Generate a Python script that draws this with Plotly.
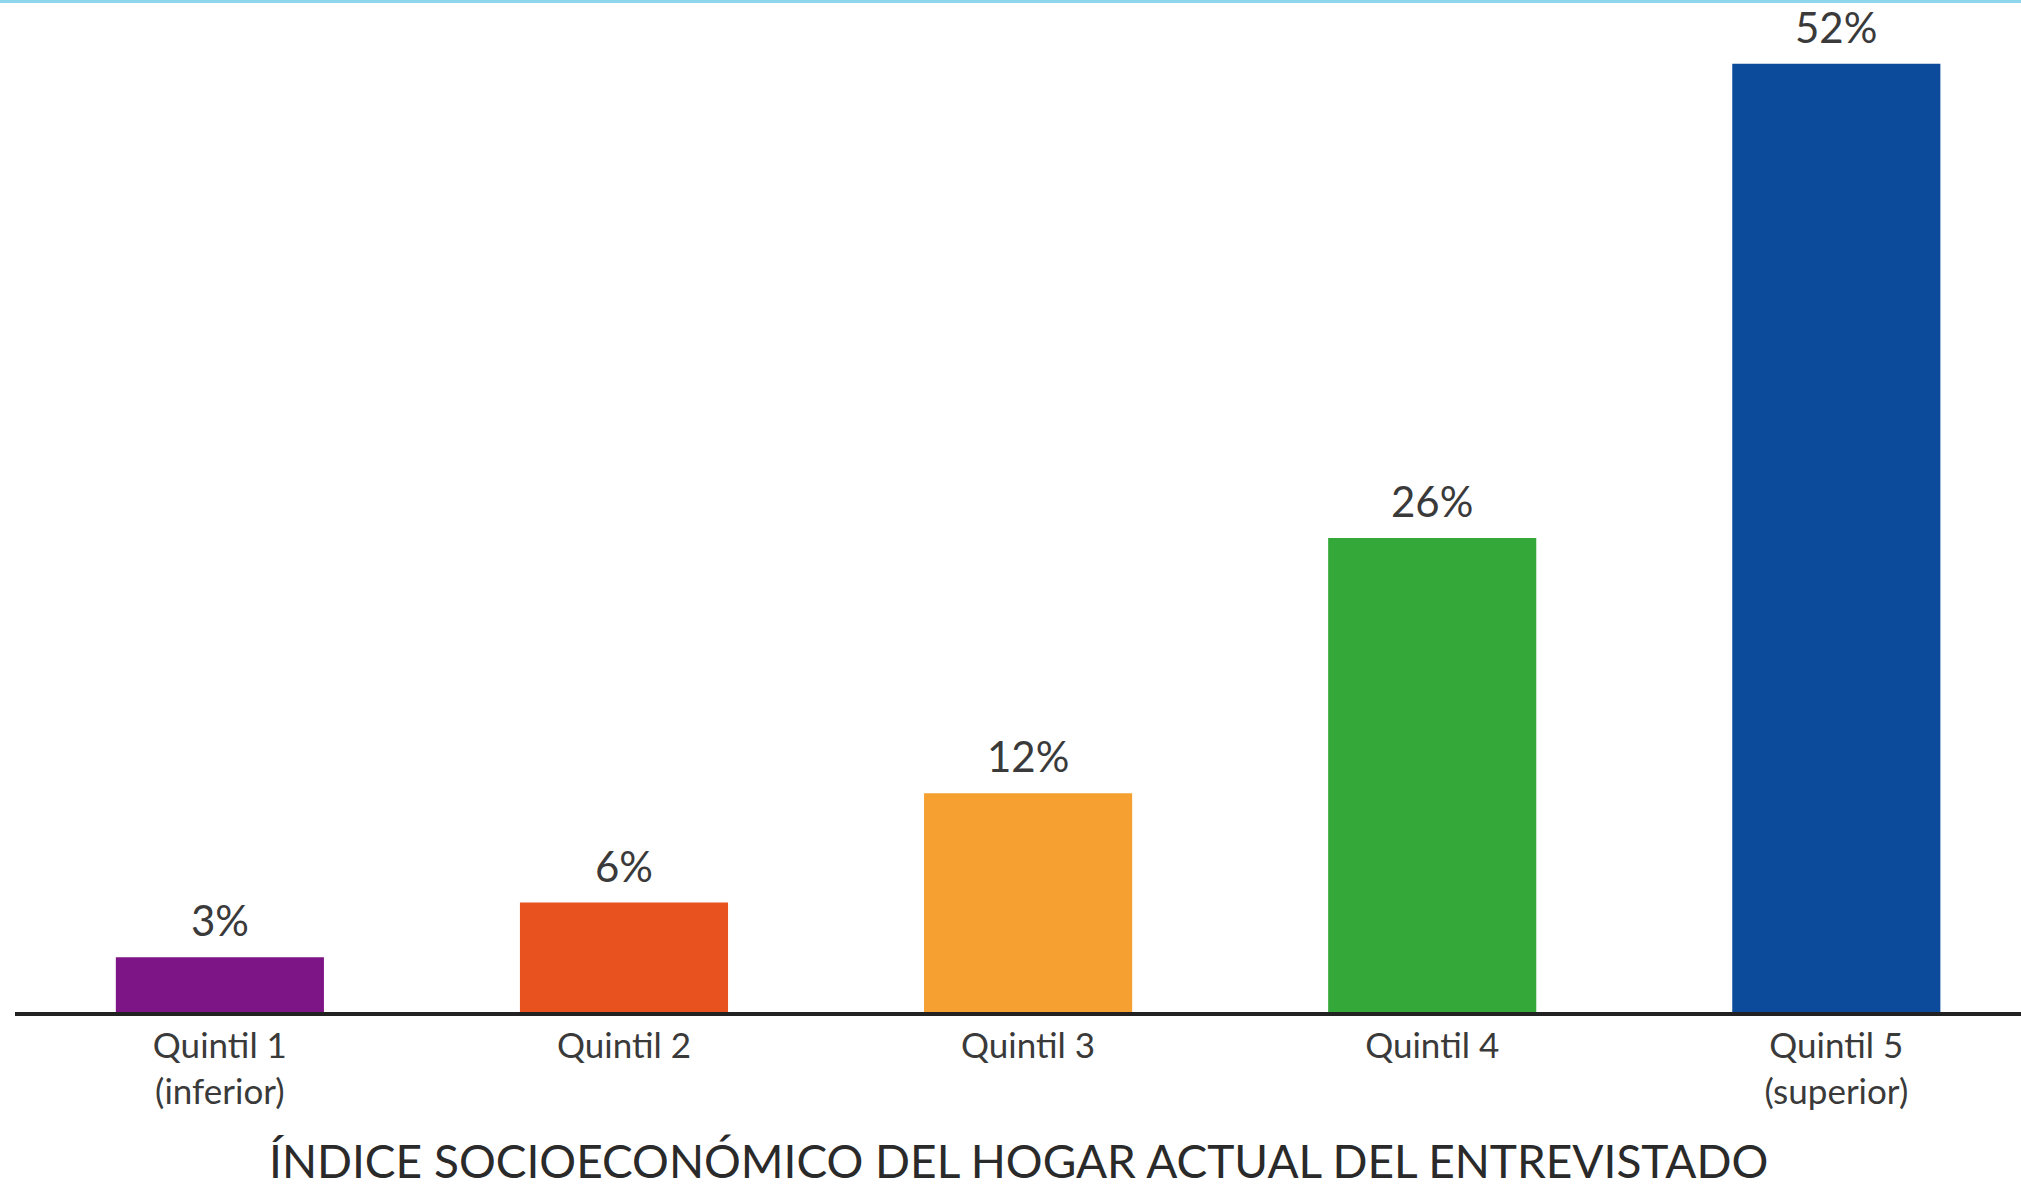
import plotly.graph_objects as go

categories = ["Quintil 1", "Quintil 2", "Quintil 3", "Quintil 4", "Quintil 5"]
tick_labels = ["Quintil 1<br>(inferior)", "Quintil 2", "Quintil 3", "Quintil 4", "Quintil 5<br>(superior)"]
values = [3, 6, 12, 26, 52]
value_labels = ["3%", "6%", "12%", "26%", "52%"]
colors = ["#7E1587", "#E8521F", "#F5A030", "#34A93A", "#0C4A9B"]
axis_title = "ÍNDICE SOCIOECONÓMICO DEL HOGAR ACTUAL DEL ENTREVISTADO"

W, H = 2021, 1192
ML, MR, MT, MB = 15, 0, 0, 180
PH = H - MT - MB

fig = go.Figure()
fig.add_trace(go.Bar(
    x=list(range(len(categories))),
    y=values,
    width=0.515,
    marker=dict(color=colors, line=dict(width=0)),
    hoverinfo="skip",
    showlegend=False,
))

annotations = []
for i, (v, t) in enumerate(zip(values, value_labels)):
    annotations.append(dict(
        x=i, y=v, xref="x", yref="y", text=t, showarrow=False,
        yanchor="bottom", yshift=10,
        font=dict(family="Lato", size=42, color="#3a3a3a"),
    ))
annotations.append(dict(
    x=0.5, y=0, xref="paper", yref="paper", yshift=-178,
    text=axis_title, showarrow=False, xanchor="center", yanchor="bottom",
    font=dict(family="Lato", size=46, color="#2a2a2a"),
))

fig.update_layout(
    width=W, height=H,
    margin=dict(l=ML, r=MR, t=MT, b=MB, pad=0),
    paper_bgcolor="white", plot_bgcolor="white",
    annotations=annotations,
    xaxis=dict(
        tickmode="array",
        tickvals=list(range(len(categories))),
        ticktext=tick_labels,
        range=[-0.507, 4.457],
        showgrid=False, zeroline=False,
        showline=True, linecolor="#222222", linewidth=4,
        ticks="",
        tickfont=dict(family="Lato", size=35, color="#3a3a3a"),
    ),
    yaxis=dict(range=[0, 55.5], visible=False, showgrid=False, zeroline=False),
    shapes=[dict(
        type="line", xref="paper", yref="paper",
        x0=-ML / (W - ML - MR), x1=1, y0=1 - 1.5 / PH, y1=1 - 1.5 / PH,
        line=dict(color="#8ED6EE", width=3),
    )],
)

fig.write_html(
    "out.html",
    config={"displayModeBar": False},
    post_script="document.body.style.margin='0';document.body.style.padding='0';document.body.style.overflow='hidden';",
)
